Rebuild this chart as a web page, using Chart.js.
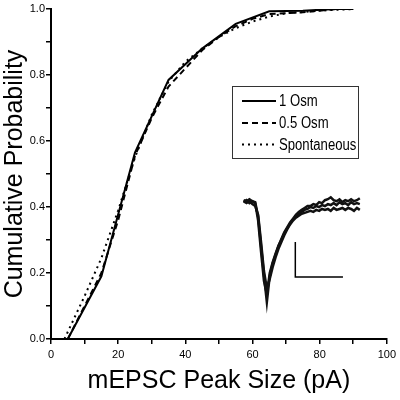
<!DOCTYPE html>
<html>
<head>
<meta charset="utf-8">
<script src="https://cdn.jsdelivr.net/npm/chart.js@4.4.0/dist/chart.umd.min.js"></script>
<style>
  html, body { margin: 0; padding: 0; background: #fff; }
  #wrap { width: 400px; height: 400px; }
</style>
</head>
<body>
<div id="wrap"><canvas id="cdfChart"></canvas></div>
<script>
// Cumulative distributions (peak size in pA, cumulative probability)
const sizeOsm1 = [5, 15, 25, 35, 45, 55, 65, 75, 85, 90];
const probOsm1 = [0, 0.19, 0.565, 0.785, 0.88, 0.955, 0.993, 0.995, 1.0, 1.0];

const sizeOsm05 = [5, 10, 15, 20, 25, 30, 35, 40, 45, 50, 55, 60, 65, 75, 85, 90];
const probOsm05 = [0, 0.1, 0.2, 0.36, 0.555, 0.67, 0.765, 0.82, 0.875, 0.915, 0.948, 0.97, 0.985, 0.99, 1.0, 1.0];

const sizeSpont = [4, 10, 15, 20, 25, 30, 35, 40, 45, 50, 55, 60, 65, 70, 80, 90];
const probSpont = [0, 0.13, 0.245, 0.39, 0.55, 0.68, 0.78, 0.84, 0.88, 0.915, 0.942, 0.962, 0.977, 0.987, 0.995, 1.0];

const seriesLabels = ['1 Osm', '0.5 Osm', 'Spontaneous'];

// Inset: example mEPSC traces (time in ms, current in pA)
const traceTime = [0,1,2,3,4,5,6,7,8,9,10,11,12,13,14,15,16,17,18,19,20,21,22,23,24,25,26,27,28,29,30,31,32,33,34,35,36,37,38,39,40];
const traceA = [3,2,4,2,1,-14,-44,-74,-102,-75,-62,-53,-44,-37,-30,-25,-20,-16,-12,-9,-7,-5,-3,-3,-1,-2,1,0,3,4,6,3,2,4,1,3,2,4,2,3,5];
const traceB = [1,3,0,2,0,-18,-50,-80,-94,-72,-61,-52,-44,-38,-31,-26,-21,-17,-14,-11,-9,-7,-6,-4,-5,-3,-4,-2,-3,-1,-2,0,-2,1,-1,0,-2,1,-1,0,-1];
const traceC = [2,0,2,-1,-3,-12,-40,-70,-88,-78,-66,-56,-47,-40,-33,-27,-22,-18,-15,-13,-11,-10,-9,-8,-9,-7,-8,-6,-7,-6,-8,-5,-7,-6,-5,-7,-5,-6,-8,-5,-7];

// scale bar corner points
const barTime = [17.8, 17.8, 34.2];
const barAmp = [-40, -76, -76];

const pts = (xs, ys) => xs.map((x, i) => ({ x: x, y: ys[i] }));

const sans = "'Liberation Sans', Arial, sans-serif";

// Legend drawn inside the plot area, boxed; text squeezed to look condensed
const boxLegend = {
    id: 'boxLegend',
    afterDraw(chart) {
        const ctx = chart.ctx;
        ctx.save();
        ctx.strokeStyle = '#333';
        ctx.lineWidth = 1;
        ctx.strokeRect(232.5, 86.5, 126, 72);
        const rows = [101, 123, 144.5];
        chart.data.datasets.filter(d => d.inLegend).forEach((d, i) => {
            ctx.beginPath();
            ctx.setLineDash(d.borderDash || []);
            ctx.lineWidth = 2;
            ctx.strokeStyle = '#000';
            ctx.moveTo(242, rows[i]);
            ctx.lineTo(276, rows[i]);
            ctx.stroke();
            ctx.setLineDash([]);
            ctx.save();
            ctx.translate(279, rows[i] + 1);
            ctx.scale(0.82, 1);
            ctx.fillStyle = '#000';
            ctx.font = '16px ' + sans;
            ctx.textBaseline = 'middle';
            ctx.fillText(d.label, 0, 0);
            ctx.restore();
        });
        ctx.restore();
    }
};

const ctx = document.getElementById('cdfChart').getContext('2d');
const cdfChart = new Chart(ctx, {
    type: 'line',
    data: {
        datasets: [
            { label: seriesLabels[0], data: pts(sizeOsm1, probOsm1), borderColor: '#000', borderWidth: 2, inLegend: true },
            { label: seriesLabels[1], data: pts(sizeOsm05, probOsm05), borderColor: '#000', borderWidth: 2, borderDash: [6, 4], inLegend: true },
            { label: seriesLabels[2], data: pts(sizeSpont, probSpont), borderColor: '#000', borderWidth: 2, borderDash: [2, 4], inLegend: true },
            { label: 'trace A', data: pts(traceTime, traceA), xAxisID: 'tx', yAxisID: 'ty', borderColor: '#111', borderWidth: 2.5 },
            { label: 'trace B', data: pts(traceTime, traceB), xAxisID: 'tx', yAxisID: 'ty', borderColor: '#111', borderWidth: 2.5 },
            { label: 'trace C', data: pts(traceTime, traceC), xAxisID: 'tx', yAxisID: 'ty', borderColor: '#111', borderWidth: 2.5 },
            { label: 'scale bar', data: pts(barTime, barAmp), xAxisID: 'tx', yAxisID: 'ty', borderColor: '#000', borderWidth: 1.5 }
        ]
    },
    options: {
        responsive: true,
        maintainAspectRatio: false,
        animation: false,
        layout: { padding: { top: 9, right: 11, left: 0, bottom: 0 } },
        elements: { point: { radius: 0 }, line: { tension: 0, fill: false } },
        plugins: { legend: { display: false }, tooltip: { enabled: false } },
        scales: {
            x: {
                type: 'linear', min: 0, max: 100,
                afterFit: s => { s.height = 61; },
                border: { display: true, color: '#000', width: 2 },
                grid: { drawOnChartArea: false, drawTicks: true, tickLength: 5, color: '#000', lineWidth: 1.5 },
                ticks: {
                    stepSize: 10, padding: 4, color: '#000', maxRotation: 0,
                    font: { family: sans, size: 11 },
                    callback: v => (v % 20 === 0 ? String(v) : '')
                },
                title: {
                    display: true, text: 'mEPSC Peak Size (pA)', color: '#000',
                    font: { family: sans, size: 25 }, padding: { top: 0, bottom: 4 }
                }
            },
            y: {
                type: 'linear', min: 0, max: 1,
                afterFit: s => { s.width = 51; },
                border: { display: true, color: '#000', width: 2 },
                grid: { drawOnChartArea: false, drawTicks: true, tickLength: 5, color: '#000', lineWidth: 1.5 },
                ticks: {
                    stepSize: 0.1, padding: 1, color: '#000',
                    font: { family: sans, size: 11 },
                    callback: v => (Math.round(v * 10) % 2 === 0 ? v.toFixed(1) : '')
                },
                title: {
                    display: true, text: 'Cumulative Probability', color: '#000',
                    font: { family: sans, size: 25 }, padding: { top: 0, bottom: 0 }
                }
            },
            // hidden axes that place the inset traces
            tx: { type: 'linear', display: false, min: -66.3, max: 49.3 },
            ty: { type: 'linear', display: false, min: -140, max: 200 }
        }
    },
    plugins: [boxLegend]
});
</script>
</body>
</html>
